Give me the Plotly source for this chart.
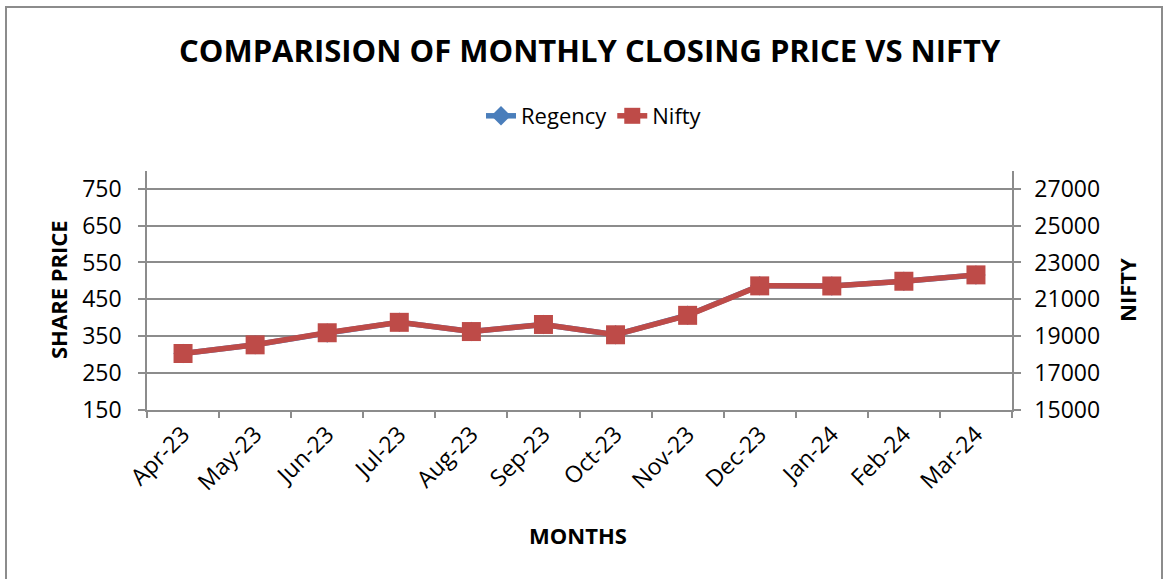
import plotly.graph_objects as go

months = ["Apr-23", "May-23", "Jun-23", "Jul-23", "Aug-23", "Sep-23",
          "Oct-23", "Nov-23", "Dec-23", "Jan-24", "Feb-24", "Mar-24"]
regency = [303, 327, 359, 388, 363, 382, 354, 407, 487, 486, 499, 516]
nifty = [18065, 18534, 19189, 19754, 19254, 19638, 19079, 20133, 21731, 21725, 21982, 22327]
left_ticks = [150, 250, 350, 450, 550, 650, 750]
right_ticks = [15000, 17000, 19000, 21000, 23000, 25000, 27000]

FONT = "Open Sans"
GRID = "#8c8c8c"

fig = go.Figure()
fig.add_trace(go.Scatter(
    x=months, y=regency, name="Regency", mode="lines+markers",
    line=dict(color="#4A7EBB", width=5.5),
    marker=dict(symbol="diamond", size=15, color="#4A7EBB"),
))
fig.add_trace(go.Scatter(
    x=months, y=nifty, name="Nifty", mode="lines+markers", yaxis="y2",
    line=dict(color="#BE4B48", width=5.5),
    marker=dict(symbol="square", size=19, color="#BE4B48"),
))

W, H = 1168, 579
L, R, T, B = 147, 1012, 171, 410

def px_x(p):
    return (p - L) / (R - L)

def px_y(p):
    return (B - p) / (B - T)

TICKF = dict(size=23, family=FONT)

fig.update_layout(
    width=W, height=H,
    margin=dict(l=L, r=W - R, t=T, b=H - B),
    paper_bgcolor="white", plot_bgcolor="white",
    font=dict(family=FONT, color="black", size=22),
    showlegend=True,
    legend=dict(orientation="h", x=px_x(594), xanchor="center", y=px_y(116), yanchor="middle",
                font=dict(size=22, family=FONT), tracegroupgap=0,
                bgcolor="rgba(0,0,0,0)"),
    xaxis=dict(
        type="category", tickangle=-45, tickson="boundaries",
        ticks="outside", ticklen=6, tickcolor=GRID, tickwidth=1.5,
        showline=True, linecolor=GRID, linewidth=1.5,
        showgrid=False, tickfont=TICKF,
        range=[-0.5, 11.5],
    ),
    yaxis=dict(
        range=[150, 798], tickvals=left_ticks, ticktext=[str(v) for v in left_ticks],
        showgrid=True, gridcolor=GRID, gridwidth=1.5,
        showline=True, linecolor=GRID, linewidth=1.5,
        ticks="outside", ticklen=7, tickcolor=GRID, tickwidth=1.5,
        tickfont=TICKF, zeroline=False, ticklabelstandoff=12,
    ),
    yaxis2=dict(
        range=[15000, 27960], tickvals=right_ticks, ticktext=[str(v) for v in right_ticks],
        overlaying="y", side="right", showgrid=False,
        showline=True, linecolor=GRID, linewidth=1.5,
        ticks="outside", ticklen=7, tickcolor=GRID, tickwidth=1.5,
        tickfont=TICKF, zeroline=False, ticklabelstandoff=9,
    ),
    annotations=[
        dict(text="<b>COMPARISION OF MONTHLY CLOSING PRICE VS NIFTY</b>",
             xref="paper", yref="paper", x=px_x(590), y=px_y(50),
             xanchor="center", yanchor="middle", showarrow=False,
             font=dict(size=31, family=FONT)),
        dict(text="<b>SHARE PRICE</b>", xref="paper", yref="paper",
             x=px_x(58), y=px_y(290), textangle=-90,
             xanchor="center", yanchor="middle", showarrow=False,
             font=dict(size=22, family=FONT)),
        dict(text="<b>NIFTY</b>", xref="paper", yref="paper",
             x=px_x(1127), y=px_y(290), textangle=-90,
             xanchor="center", yanchor="middle", showarrow=False,
             font=dict(size=22, family=FONT)),
        dict(text="<b>MONTHS</b>", xref="paper", yref="paper",
             x=px_x(578), y=px_y(535),
             xanchor="center", yanchor="middle", showarrow=False,
             font=dict(size=22, family=FONT)),
    ],
    shapes=[
        dict(type="rect", xref="paper", yref="paper",
             x0=px_x(6), x1=px_x(1162), y0=px_y(590), y1=px_y(7),
             line=dict(color="#8c8c8c", width=2), layer="below"),
    ],
)

fig.write_html("out.html", config={"displayModeBar": False},
               post_script="document.body.style.margin='0';document.body.style.overflow='hidden';")
